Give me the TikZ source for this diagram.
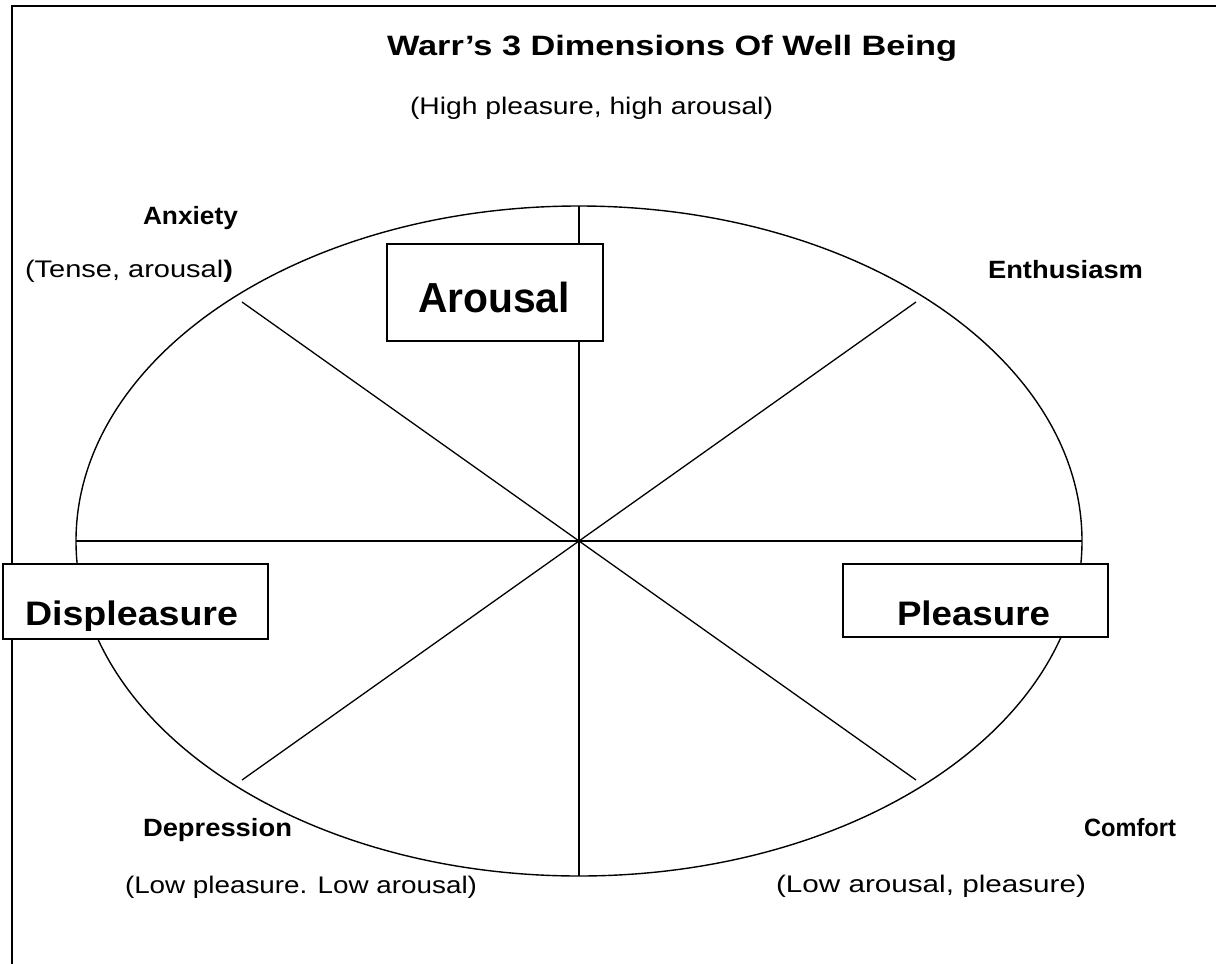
\documentclass[tikz,border=0pt]{standalone}
\usepackage{fontspec}
\setmainfont{Liberation Sans}
\usetikzlibrary{shapes.geometric}
% stretch a piece of text horizontally to a given width, keeping its height
\newcommand{\widen}[2]{\resizebox{#1}{\height}{#2}}

\begin{document}
\begin{tikzpicture}[x=1pt,y=-1pt,
  frame/.style={line width=2.4pt},
  rim/.style={draw, line width=1.4pt},
  spoke/.style={line width=1.3pt},
  pole/.style={draw, line width=2pt, fill=white, rectangle, inner sep=0pt, outer sep=0pt},
  lbl/.style={anchor=base west, inner sep=0pt, outer sep=0pt},
  heading/.style={lbl, font=\fontsize{28}{32}\selectfont\bfseries},
  mood/.style={lbl, font=\fontsize{25}{29}\selectfont\bfseries},
  note/.style={lbl, font=\fontsize{24}{28}\selectfont},
  polename/.style={lbl, font=\fontsize{#1}{#1}\selectfont\bfseries},
  ]
\useasboundingbox (0,0) rectangle (1216,964);

% page frame (top and left edges)
\draw[frame] (12,964) -- (12,6) -- (1216,6);

% the circumplex
\node[ellipse, rim, minimum width=1006pt, minimum height=670pt, inner sep=0pt, outer sep=0pt] (oval) at (579,541) {};
\coordinate (nw) at (242,302);
\coordinate (se) at (916,780);
\coordinate (ne) at (916,302);
\coordinate (sw) at (242,780);
\draw[spoke] (oval.north) -- (oval.south);
\draw[spoke] (oval.west) -- (oval.east);
\draw[spoke] (nw) -- (se);
\draw[spoke] (ne) -- (sw);

% axis boxes
\node[pole, minimum width=216pt, minimum height=97pt] (arousalbox) at (495,292.5) {};
\node[pole, minimum width=265pt, minimum height=75pt] (displeasurebox) at (135.5,601.5) {};
\node[pole, minimum width=265pt, minimum height=73pt] (pleasurebox) at (975.5,600.5) {};

\node[polename=42] (arousal) at (418,312) {\widen{152pt}{Arousal}};
\begin{scope}
  \clip (4,566) rectangle (267,630);
  \node[polename=34] (displeasure) at (25,625) {\widen{213pt}{Displeasure}};
\end{scope}
\node[polename=34] (pleasure) at (897,625) {\widen{153pt}{Pleasure}};

% title and quadrant labels
\node[heading] (title) at (387,55) {\widen{570pt}{Warr’s 3 Dimensions Of Well Being}};
\node[note] (high) at (410,114) {\widen{363pt}{(High pleasure, high arousal)}};
\node[mood] (anxiety) at (143,224) {\widen{95pt}{Anxiety}};
\node[note] (tense) at (25,277) {\widen{208pt}{(Tense, arousal\textbf{)}}};
\node[mood] (enthusiasm) at (988,278) {\widen{155pt}{Enthusiasm}};
\node[mood] (depression) at (143,836) {\widen{149pt}{Depression}};
\node[note] (lowlow) at (125,893) {\widen{352pt}{(Low pleasure. Low arousal)}};
\node[mood] (comfort) at (1084,836) {\widen{92pt}{Comfort}};
\node[note] (lowpleasure) at (776,892) {\widen{310pt}{(Low arousal, pleasure)}};
\end{tikzpicture}
\end{document}
